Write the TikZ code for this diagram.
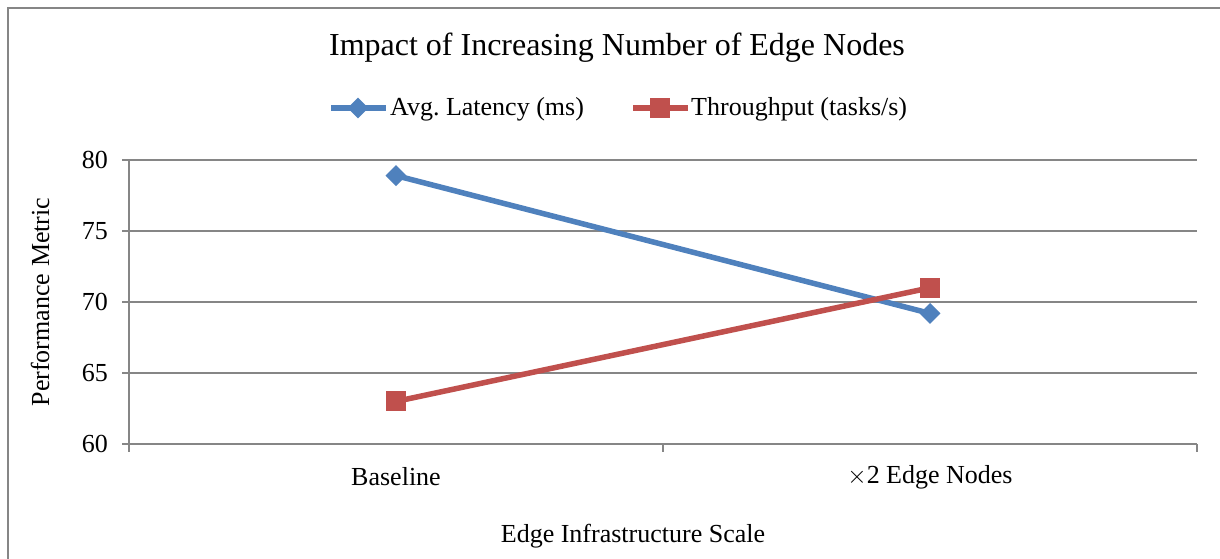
\documentclass[tikz,border=0pt]{standalone}
\usepackage{fontspec}
\setmainfont{Liberation Serif}
\usetikzlibrary{shapes.geometric}
\definecolor{latblue}{HTML}{4F81BD}
\definecolor{thrred}{HTML}{C0504D}
\definecolor{axisgray}{HTML}{868686}
\tikzset{
  frame/.style={draw=axisgray, line width=2pt},
  gridline/.style={draw=axisgray, line width=1.5pt},
  ticklabel/.style={anchor=east, inner sep=0pt, font=\fontsize{26}{30}\selectfont},
  catlabel/.style={anchor=center, inner sep=0pt, font=\fontsize{26}{30}\selectfont},
  axtitle/.style={inner sep=0pt, font=\fontsize{26}{30}\selectfont},
  charttitle/.style={inner sep=0pt, font=\fontsize{32}{36}\selectfont},
  legtext/.style={anchor=west, inner sep=0pt, font=\fontsize{26}{30}\selectfont},
  latline/.style={draw=latblue, line width=5.5pt, line cap=round},
  thrline/.style={draw=thrred, line width=5.5pt},
  latmark/.style={diamond, fill=latblue, inner sep=0pt, minimum width=21pt, minimum height=21pt},
  thrmark/.style={rectangle, fill=thrred, inner sep=0pt, minimum width=20pt, minimum height=20pt},
}
\begin{document}
\begin{tikzpicture}[x=1pt, y=-1pt]
\useasboundingbox (0,0) rectangle (1220,558);
\fill[white] (0,0) rectangle (1220,558);
\begin{scope}
\clip (0,0) rectangle (1220,558);
% chart frame (runs past the page on the right and bottom)
\draw[frame] (8,8) rectangle (1240,580);
\end{scope}

% title
\node[charttitle] (title) at (617,48) {Impact of Increasing Number of Edge Nodes};

% legend
\coordinate (la) at (331,108);
\coordinate (lb) at (386,108);
\draw[latline, line cap=butt] (la) -- (lb);
\node[latmark] (lm1) at (358,108) {};
\node[legtext] (lt1) at (390,109) {Avg.\ Latency (ms)};
\coordinate (ra) at (633,108);
\coordinate (rb) at (688,108);
\draw[thrline] (ra) -- (rb);
\node[thrmark] (lm2) at (660,108) {};
\node[legtext] (lt2) at (691,109) {Throughput (tasks/s)};

% horizontal gridlines and value ticks
\foreach \v/\yy in {80/160,75/231,70/302,65/373,60/444}{
  \draw[gridline] (122,\yy) -- (1197,\yy);
  \node[ticklabel] (tick\v) at (108,\yy) {\v};
}
% axes and category ticks
\draw[gridline] (129,160) -- (129,452);
\draw[gridline] (663,444) -- (663,452);
\draw[gridline] (1197,444) -- (1197,452);

% category labels and axis titles
\node[catlabel] (cat1) at (396,477) {Baseline};
\node[catlabel] (cat2) at (930,477) {$\times$2 Edge Nodes};
\node[axtitle] (xtitle) at (633,536) {Edge Infrastructure Scale};
\node[axtitle, rotate=90] (ytitle) at (40,302) {Performance Metric};

% data points
\coordinate (lat1) at (396,175.6);
\coordinate (lat2) at (930,313.4);
\coordinate (thr1) at (396,401.4);
\coordinate (thr2) at (930,287.8);

% series lines
\draw[latline] (lat1) -- (lat2);
\draw[thrline] (thr1) -- (thr2);

% markers
\node[latmark] (mlat1) at (lat1) {};
\node[latmark] (mlat2) at (lat2) {};
\node[thrmark] (mthr1) at (thr1) {};
\node[thrmark] (mthr2) at (thr2) {};
\end{tikzpicture}
\end{document}
